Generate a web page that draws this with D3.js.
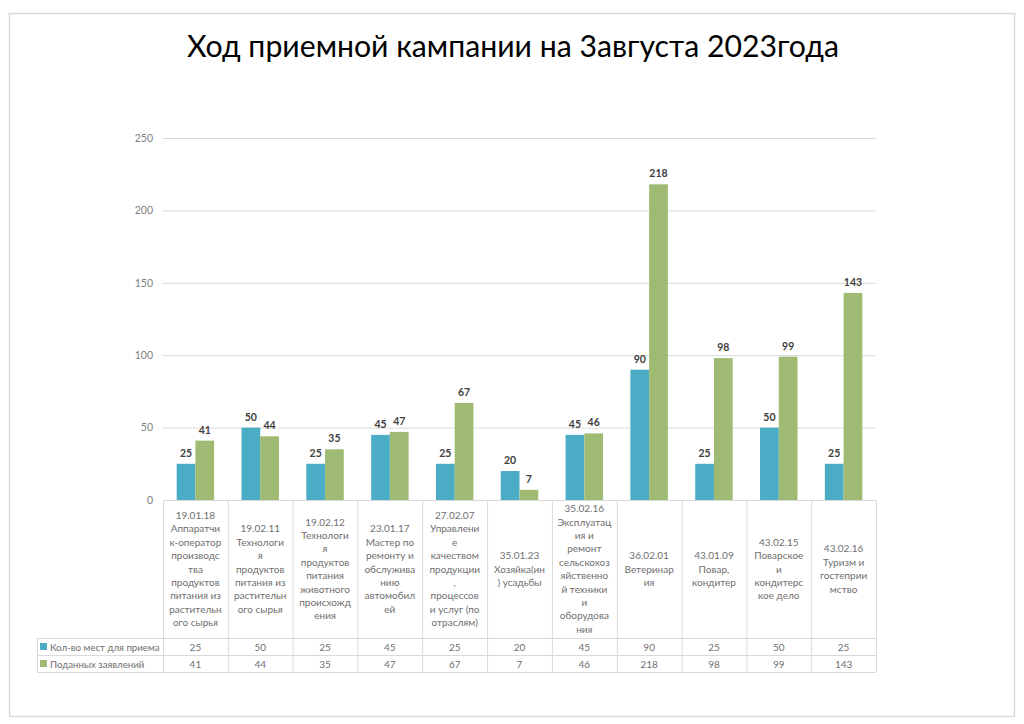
<!DOCTYPE html>
<html>
<head>
<meta charset="utf-8">
<script src="https://cdn.jsdelivr.net/npm/d3@7"></script>
<style>
  html, body { margin: 0; padding: 0; background: #fff; }
  svg { display: block; }
</style>
</head>
<body>
<svg id="chart" width="1024" height="724"></svg>
<script>
const title = "Ход приемной кампании на 3августа 2023года";
const categories = [
  "19.01.18\nАппаратчи\nк-оператор\nпроизводс\nтва\nпродуктов\nпитания из\nрастительн\nого сырья",
  "19.02.11\nТехнологи\nя\nпродуктов\nпитания из\nрастительн\nого сырья",
  "19.02.12\nТехнологи\nя\nпродуктов\nпитания\nживотного\nпроисхожд\nения",
  "23.01.17\nМастер по\nремонту и\nобслужива\nнию\nавтомобил\nей",
  "27.02.07\nУправлени\nе\nкачеством\nпродукции\n,\nпроцессов\nи услуг (по\nотраслям)",
  "35.01.23\nХозяйка(ин\n) усадьбы",
  "35.02.16\nЭксплуатац\nия и\nремонт\nсельскохоз\nяйственно\nй техники\nи\nоборудова\nния",
  "36.02.01\nВетеринар\nия",
  "43.01.09\nПовар,\nкондитер",
  "43.02.15\nПоварское\nи\nкондитерс\nкое дело",
  "43.02.16\nТуризм и\nгостеприи\nмство"
];
const seriesNames = ["Кол-во мест для приема", "Поданных заявлений"];
const places = [25, 50, 25, 45, 25, 20, 45, 90, 25, 50, 25];
const applications = [41, 44, 35, 47, 67, 7, 46, 218, 98, 99, 143];
const yTicks = [0, 50, 100, 150, 200, 250];

const colors = ["#4bacc6", "#9fba72"];
const seriesValues = [places, applications];

const svg = d3.select("#chart");
const font = "Lato, 'Open Sans', sans-serif";
const textGray = "#6f6f6f";

// outer border
svg.append("rect").attr("x", 9.5).attr("y", 13.5).attr("width", 1005).attr("height", 703)
  .attr("fill", "#fff").attr("stroke", "#d9d9d9").attr("stroke-width", 1.5);

// title
svg.append("text").attr("x", 513).attr("y", 57).attr("text-anchor", "middle")
  .attr("font-family", font).attr("font-size", 31).attr("fill", "#000")
  .attr("textLength", 652).attr("lengthAdjust", "spacingAndGlyphs")
  .text(title);

const plotLeft = 163, plotRight = 876, plotTop = 138, plotBottom = 500;
const y = d3.scaleLinear().domain([0, 250]).range([plotBottom, plotTop]);
const x0 = d3.scaleBand().domain(d3.range(categories.length)).range([plotLeft, plotRight]).paddingInner(0).paddingOuter(0);
const groupW = x0.bandwidth() * 0.578;
const x1 = d3.scaleBand().domain([0, 1]).range([0, groupW]).padding(0);
const groupOff = (x0.bandwidth() - groupW) / 2;

// gridlines
const grid = svg.append("g").attr("transform", `translate(${plotLeft},0)`)
  .call(d3.axisLeft(y).tickValues(yTicks.filter(t => t > 0)).tickSize(-(plotRight - plotLeft)).tickFormat(""));
grid.select(".domain").remove();
grid.selectAll("line").attr("stroke", "#d9d9d9").attr("stroke-width", 1);

// y axis labels
const yAxis = svg.append("g").attr("transform", `translate(${plotLeft - 10},0)`)
  .call(d3.axisLeft(y).tickValues(yTicks).tickSize(0).tickPadding(0));
yAxis.select(".domain").remove();
yAxis.selectAll("text").attr("font-family", font).attr("font-size", 10.5).attr("fill", "#7f7f7f");

// bars
const groups = svg.append("g").selectAll("g").data(categories).join("g")
  .attr("transform", (d, i) => `translate(${x0(i) + groupOff},0)`);
seriesValues.forEach((vals, s) => {
  groups.append("rect")
    .attr("x", x1(s)).attr("width", x1.bandwidth())
    .attr("y", (d, i) => y(vals[i]))
    .attr("height", (d, i) => y(0) - y(vals[i]))
    .attr("fill", colors[s]);
  groups.append("text")
    .attr("x", x1(s) + x1.bandwidth() / 2)
    .attr("y", (d, i) => y(vals[i]) - 7)
    .attr("text-anchor", "middle")
    .attr("font-family", font).attr("font-size", 10.5).attr("font-weight", "bold")
    .attr("fill", "#404040")
    .text((d, i) => vals[i]);
});

// data table
const tableTop = plotBottom, row1 = 638, row2 = 655, tableBottom = 672, legendLeft = 37;
const lineColor = "#d9d9d9";
const tbl = svg.append("g").attr("stroke", lineColor).attr("stroke-width", 1).attr("fill", "none");
tbl.append("line").attr("x1", plotLeft).attr("x2", plotRight).attr("y1", tableTop + 0.5).attr("y2", tableTop + 0.5);
[row1, row2, tableBottom].forEach(yy => {
  tbl.append("line").attr("x1", legendLeft).attr("x2", plotRight).attr("y1", yy + 0.5).attr("y2", yy + 0.5);
});
d3.range(categories.length + 1).forEach(i => {
  const xx = i < categories.length ? x0(i) : plotRight;
  tbl.append("line").attr("x1", xx + 0.5).attr("x2", xx + 0.5).attr("y1", tableTop).attr("y2", tableBottom);
});
tbl.append("line").attr("x1", legendLeft + 0.5).attr("x2", legendLeft + 0.5).attr("y1", row1).attr("y2", tableBottom);

// category labels
const lh = 13.4;
const catCenter = (tableTop + row1) / 2;
groups.each(function(d, i) {
  const lines = d.split("\n");
  const t = d3.select(this).append("text")
    .attr("text-anchor", "middle")
    .attr("font-family", font).attr("font-size", 10).attr("fill", textGray);
  const startY = catCenter - (lines.length - 1) * lh / 2 + 3.5;
  lines.forEach((ln, k) => {
    t.append("tspan").attr("x", x0.bandwidth() / 2 - groupOff).attr("y", startY + k * lh).text(ln);
  });
});

// table values
[row1, row2].forEach((ry, s) => {
  const vals = seriesValues[s];
  svg.append("g").selectAll("text").data(vals).join("text")
    .attr("x", (d, i) => x0(i) + x0.bandwidth() / 2)
    .attr("y", ry + 12.5)
    .attr("text-anchor", "middle")
    .attr("font-family", font).attr("font-size", 10).attr("fill", textGray)
    .text(d => d);
  svg.append("rect").attr("x", 40).attr("y", ry + 5).attr("width", 7).attr("height", 7).attr("fill", colors[s]);
  svg.append("text").attr("x", 50).attr("y", ry + 12.5)
    .attr("font-family", font).attr("font-size", 9.7).attr("fill", textGray)
    .text(seriesNames[s]);
});
</script>
</body>
</html>
